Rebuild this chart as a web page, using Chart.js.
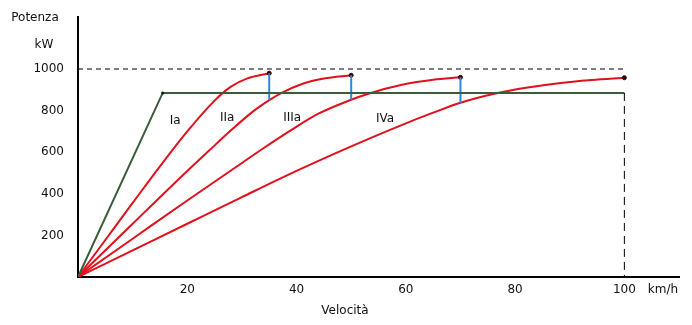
<!DOCTYPE html>
<html>
<head>
<meta charset="utf-8">
<script src="https://cdn.jsdelivr.net/npm/chart.js@4"></script>
<style>
body { margin: 0; background: #fff; }
#wrap { width: 692px; height: 325px; }
</style>
</head>
<body>
<div id="wrap"><canvas id="chart"></canvas></div>
<script>
// curves: speed (km/h) -> power (kW)
const speedIa = [0, 5, 10, 15, 20, 25, 28, 31, 35];
const powerIa = [0, 178, 356, 532, 700, 848, 915, 955, 980];
const speedIIa = [0, 10, 20, 24, 28, 32, 35, 37, 41, 45, 50];
const powerIIa = [0, 256, 510, 608, 705, 795, 850, 882, 928, 954, 970];
const speedIIIa = [0, 10, 20, 28, 34, 39, 44, 50, 53, 59.5, 65, 70];
const powerIIIa = [0, 184, 368, 512, 620, 706, 785, 852, 880, 925, 948, 960];
const speedIVa = [0, 10, 20, 30, 40, 50, 59, 65, 70, 76, 82, 88, 94, 100];
const powerIVa = [0, 128, 256, 384, 510, 628, 728, 790, 838, 880, 910, 932, 947, 958];

// engine limit (green) and gear shift drops (blue)
const limitSpeed = [0, 15.5, 100];
const limitPower = [0, 885, 885];
const shiftSpeed = [35, 50, 70];
const shiftTop = [980, 970, 960];
const shiftBottom = [850, 852, 838];

const xTicks = [20, 40, 60, 80, 100];
const yTicks = [200, 400, 600, 800, 1000];
const gearNames = ['Ia', 'IIa', 'IIIa', 'IVa'];
const gearLabelX = [17.8, 27.3, 39.2, 56.2];
const gearLabelY = [752, 765, 765, 760];

const RED = '#e0101c';
const GREEN = '#3a5c3a';
const BLUE = '#2a88dc';

function pts(xs, ys) {
    return xs.map((x, i) => ({ x: x, y: ys[i] }));
}

function gearSet(xs, ys) {
    let radius = xs.map((x, i) => i === xs.length - 1 ? 2 : 0);
    return {
        data: pts(xs, ys),
        borderColor: RED,
        borderWidth: 2,
        cubicInterpolationMode: 'monotone',
        pointRadius: radius,
        pointBackgroundColor: '#300',
        pointBorderColor: '#300',
        pointBorderWidth: 1
    };
}

let datasets = [
    {
        data: [{ x: 0, y: 1000 }, { x: 100, y: 1000 }],
        borderColor: '#000', borderWidth: 1, borderDash: [5, 4], pointRadius: 0
    },
    {
        data: [{ x: 100, y: 885 }, { x: 100, y: 0 }],
        borderColor: '#000', borderWidth: 1, borderDash: [8, 5], pointRadius: 0
    },
    {
        data: pts(limitSpeed, limitPower),
        borderColor: GREEN, borderWidth: 2, pointRadius: [0, 1.5, 0],
        pointBackgroundColor: '#111', pointBorderWidth: 0
    }
];

shiftSpeed.forEach((s, i) => {
    datasets.push({
        data: [{ x: s, y: shiftTop[i] }, { x: s, y: shiftBottom[i] }],
        borderColor: BLUE, borderWidth: 2, pointRadius: 0
    });
});

datasets.push(gearSet(speedIa, powerIa));
datasets.push(gearSet(speedIIa, powerIIa));
datasets.push(gearSet(speedIIIa, powerIIIa));
datasets.push(gearSet(speedIVa, powerIVa));

// plain texts around the axes and the gear names
const textPlugin = {
    id: 'texts',
    afterDraw(chart) {
        const ctx = chart.ctx;
        const xs = chart.scales.x, ys = chart.scales.y;
        ctx.save();
        ctx.font = '12px "DejaVu Sans"';
        ctx.fillStyle = '#111';
        ctx.textAlign = 'center';
        ctx.textBaseline = 'middle';
        ctx.fillText('Potenza', 35, 18);
        ctx.fillText('kW', 44, 45);
        ctx.fillText('km/h', 663, 290);
        ctx.fillText('Velocità', 345, 311);
        gearNames.forEach((g, i) => {
            ctx.fillText(g, xs.getPixelForValue(gearLabelX[i]), ys.getPixelForValue(gearLabelY[i]));
        });
        ctx.restore();
    }
};

new Chart(document.getElementById('chart'), {
    type: 'line',
    data: { datasets: datasets },
    options: {
        responsive: true,
        maintainAspectRatio: false,
        animation: false,
        layout: { padding: { top: 17, right: 13, left: 0, bottom: 0 } },
        plugins: { legend: { display: false }, tooltip: { enabled: false } },
        scales: {
            x: {
                type: 'linear', min: 0, max: 110,
                grid: { display: false, drawTicks: false },
                border: { color: '#000', width: 2 },
                afterBuildTicks: (s) => { s.ticks = xTicks.map(v => ({ value: v })); },
                afterFit: (s) => { s.height = 48; s.paddingLeft = 0; s.paddingRight = 0; },
                ticks: {
                    color: '#111', padding: 6,
                    font: { family: 'DejaVu Sans', size: 12 },
                    maxRotation: 0,
                    callback: (v) => String(v)
                }
            },
            y: {
                type: 'linear', min: 0, max: 1250,
                grid: { display: false, drawTicks: false },
                border: { color: '#000', width: 2 },
                afterBuildTicks: (s) => { s.ticks = yTicks.map(v => ({ value: v })); },
                afterFit: (s) => { s.width = 78; s.paddingTop = 0; s.paddingBottom = 0; },
                ticks: {
                    color: '#111', padding: 14,
                    font: { family: 'DejaVu Sans', size: 12 },
                    callback: (v) => String(v)
                }
            }
        }
    },
    plugins: [textPlugin]
});
</script>
</body>
</html>
